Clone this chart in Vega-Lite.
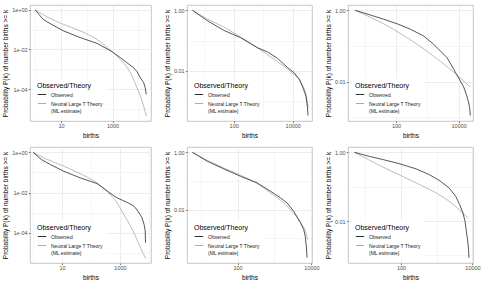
{
"$schema": "https://vega.github.io/schema/vega-lite/v6.json",
"background": "white",
"padding": {"left": 2, "top": 4, "right": 0, "bottom": 0},
"config": {
 "font": "Liberation Sans",
 "view": {"stroke": "#b8b8b8", "strokeWidth": 0.8},
 "axis": {"domain": false, "tickColor": "#333333", "tickSize": 1.6, "tickWidth": 0.7, "labelFontSize": 5.5, "labelColor": "#4d4d4d", "labelPadding": 1.3, "titleFontSize": 6.5, "titleFontWeight": "normal", "titleColor": "#000000", "titlePadding": 3, "labelOverlap": false, "labelFlush": false, "gridColor": "#ebebeb"},
 "legend": {"orient": "bottom-left", "offset": 4, "padding": 3, "fillColor": "white", "titleFontSize": 7, "titleFontWeight": "normal", "titleColor": "#000000", "labelFontSize": 5, "labelColor": "#222222", "symbolType": "stroke", "symbolSize": 70, "symbolStrokeWidth": 1, "rowPadding": 1, "titlePadding": 0.5}
},
"datasets": {"d": [
{"panel":1,"series":"Observed","births":1,"p":1},{"panel":1,"series":"Observed","births":2,"p":0.339},{"panel":1,"series":"Observed","births":3.8,"p":0.204},{"panel":1,"series":"Observed","births":12.6,"p":0.087},{"panel":1,"series":"Observed","births":56,"p":0.040},{"panel":1,"series":"Observed","births":251,"p":0.0204},{"panel":1,"series":"Observed","births":955,"p":0.0078},{"panel":1,"series":"Observed","births":1995,"p":0.0039},{"panel":1,"series":"Observed","births":3630,"p":0.00214},{"panel":1,"series":"Observed","births":6610,"p":0.0012},{"panel":1,"series":"Observed","births":8910,"p":0.00076},{"panel":1,"series":"Observed","births":12020,"p":0.00037},{"panel":1,"series":"Observed","births":16220,"p":0.00021},{"panel":1,"series":"Observed","births":18620,"p":0.000117},{"panel":1,"series":"Observed","births":20420,"p":0.0000537},
{"panel":1,"series":"Theory","births":1,"p":1},{"panel":1,"series":"Theory","births":2.88,"p":0.447},{"panel":1,"series":"Theory","births":12.6,"p":0.186},{"panel":1,"series":"Theory","births":56,"p":0.087},{"panel":1,"series":"Theory","births":251,"p":0.0324},{"panel":1,"series":"Theory","births":955,"p":0.0078},{"panel":1,"series":"Theory","births":1995,"p":0.00316},{"panel":1,"series":"Theory","births":4900,"p":0.000676},{"panel":1,"series":"Theory","births":8910,"p":0.000117},{"panel":1,"series":"Theory","births":14130,"p":0.0000245},{"panel":1,"series":"Theory","births":20420,"p":0.0000043},
{"panel":2,"series":"Observed","births":4,"p":1},{"panel":2,"series":"Observed","births":12.3,"p":0.468},{"panel":2,"series":"Observed","births":45.7,"p":0.219},{"panel":2,"series":"Observed","births":170,"p":0.126},{"panel":2,"series":"Observed","births":631,"p":0.0589},{"panel":2,"series":"Observed","births":1380,"p":0.0427},{"panel":2,"series":"Observed","births":3020,"p":0.0263},{"panel":2,"series":"Observed","births":6760,"p":0.0129},{"panel":2,"series":"Observed","births":11220,"p":0.0087},{"panel":2,"series":"Observed","births":16980,"p":0.00525},{"panel":2,"series":"Observed","births":21880,"p":0.00295},{"panel":2,"series":"Observed","births":28180,"p":0.00148},{"panel":2,"series":"Observed","births":31620,"p":0.00063},{"panel":2,"series":"Observed","births":33110,"p":0.00034},
{"panel":2,"series":"Theory","births":4,"p":1},{"panel":2,"series":"Theory","births":12.6,"p":0.525},{"panel":2,"series":"Theory","births":45.7,"p":0.282},{"panel":2,"series":"Theory","births":170,"p":0.132},{"panel":2,"series":"Theory","births":631,"p":0.0589},{"panel":2,"series":"Theory","births":2340,"p":0.024},{"panel":2,"series":"Theory","births":8710,"p":0.0093},{"panel":2,"series":"Theory","births":19050,"p":0.0041},{"panel":2,"series":"Theory","births":28180,"p":0.0017},{"panel":2,"series":"Theory","births":33880,"p":0.00062},
{"panel":3,"series":"Observed","births":5,"p":1},{"panel":3,"series":"Observed","births":15.1,"p":0.741},{"panel":3,"series":"Observed","births":40.7,"p":0.562},{"panel":3,"series":"Observed","births":107,"p":0.422},{"panel":3,"series":"Observed","births":288,"p":0.295},{"panel":3,"series":"Observed","births":759,"p":0.191},{"panel":3,"series":"Observed","births":1585,"p":0.112},{"panel":3,"series":"Observed","births":4270,"p":0.0468},{"panel":3,"series":"Observed","births":6920,"p":0.0224},{"panel":3,"series":"Observed","births":11220,"p":0.0105},{"panel":3,"series":"Observed","births":14450,"p":0.00708},{"panel":3,"series":"Observed","births":17380,"p":0.00447},{"panel":3,"series":"Observed","births":19950,"p":0.00302},{"panel":3,"series":"Observed","births":22390,"p":0.00186},{"panel":3,"series":"Observed","births":23440,"p":0.00112},
{"panel":3,"series":"Theory","births":5,"p":1},{"panel":3,"series":"Theory","births":14.8,"p":0.646},{"panel":3,"series":"Theory","births":46.8,"p":0.389},{"panel":3,"series":"Theory","births":148,"p":0.216},{"panel":3,"series":"Theory","births":468,"p":0.112},{"panel":3,"series":"Theory","births":1480,"p":0.0543},{"panel":3,"series":"Theory","births":4680,"p":0.0245},{"panel":3,"series":"Theory","births":14800,"p":0.0102},{"panel":3,"series":"Theory","births":23440,"p":0.00708},
{"panel":4,"series":"Observed","births":1,"p":1},{"panel":4,"series":"Observed","births":2,"p":0.427},{"panel":4,"series":"Observed","births":4,"p":0.245},{"panel":4,"series":"Observed","births":11.5,"p":0.115},{"panel":4,"series":"Observed","births":42.7,"p":0.0537},{"panel":4,"series":"Observed","births":162,"p":0.0282},{"panel":4,"series":"Observed","births":407,"p":0.0105},{"panel":4,"series":"Observed","births":794,"p":0.0055},{"panel":4,"series":"Observed","births":1740,"p":0.00331},{"panel":4,"series":"Observed","births":3020,"p":0.00214},{"panel":4,"series":"Observed","births":4170,"p":0.0012},{"panel":4,"series":"Observed","births":5750,"p":0.000562},{"panel":4,"series":"Observed","births":6760,"p":0.000263},{"panel":4,"series":"Observed","births":7410,"p":0.000123},{"panel":4,"series":"Observed","births":7590,"p":0.0000324},
{"panel":4,"series":"Theory","births":1,"p":1},{"panel":4,"series":"Theory","births":2.88,"p":0.468},{"panel":4,"series":"Theory","births":11.5,"p":0.204},{"panel":4,"series":"Theory","births":42.7,"p":0.087},{"panel":4,"series":"Theory","births":162,"p":0.0302},{"panel":4,"series":"Theory","births":407,"p":0.00977},{"panel":4,"series":"Theory","births":794,"p":0.00309},{"panel":4,"series":"Theory","births":1259,"p":0.001},{"panel":4,"series":"Theory","births":2140,"p":0.000263},{"panel":4,"series":"Theory","births":3630,"p":0.0000575},{"panel":4,"series":"Theory","births":5370,"p":0.0000158},{"panel":4,"series":"Theory","births":7590,"p":0.0000056},
{"panel":5,"series":"Observed","births":6,"p":1},{"panel":5,"series":"Observed","births":15.1,"p":0.49},{"panel":5,"series":"Observed","births":42.7,"p":0.263},{"panel":5,"series":"Observed","births":120,"p":0.145},{"panel":5,"series":"Observed","births":339,"p":0.0851},{"panel":5,"series":"Observed","births":776,"p":0.0437},{"panel":5,"series":"Observed","births":1445,"p":0.0257},{"panel":5,"series":"Observed","births":2190,"p":0.017},{"panel":5,"series":"Observed","births":3310,"p":0.0087},{"panel":5,"series":"Observed","births":5010,"p":0.00347},{"panel":5,"series":"Observed","births":6170,"p":0.002},{"panel":5,"series":"Observed","births":6760,"p":0.00117},{"panel":5,"series":"Observed","births":7240,"p":0.000525},{"panel":5,"series":"Observed","births":7590,"p":0.000209},
{"panel":5,"series":"Theory","births":6,"p":1},{"panel":5,"series":"Theory","births":15.1,"p":0.525},{"panel":5,"series":"Theory","births":42.7,"p":0.282},{"panel":5,"series":"Theory","births":120,"p":0.158},{"panel":5,"series":"Theory","births":339,"p":0.0813},{"panel":5,"series":"Theory","births":776,"p":0.038},{"panel":5,"series":"Theory","births":1778,"p":0.017},{"panel":5,"series":"Theory","births":3310,"p":0.00724},{"panel":5,"series":"Theory","births":5010,"p":0.00363},{"panel":5,"series":"Theory","births":6760,"p":0.00178},{"panel":5,"series":"Theory","births":7940,"p":0.00089},
{"panel":6,"series":"Observed","births":5,"p":1},{"panel":6,"series":"Observed","births":13.2,"p":0.759},{"panel":6,"series":"Observed","births":30.9,"p":0.617},{"panel":6,"series":"Observed","births":89.1,"p":0.468},{"panel":6,"series":"Observed","births":263,"p":0.331},{"panel":6,"series":"Observed","births":617,"p":0.224},{"panel":6,"series":"Observed","births":1148,"p":0.155},{"panel":6,"series":"Observed","births":2190,"p":0.0933},{"panel":6,"series":"Observed","births":3390,"p":0.0525},{"panel":6,"series":"Observed","births":4370,"p":0.0302},{"panel":6,"series":"Observed","births":5370,"p":0.0174},{"panel":6,"series":"Observed","births":6170,"p":0.01},{"panel":6,"series":"Observed","births":6610,"p":0.00575},{"panel":6,"series":"Observed","births":7240,"p":0.00295},{"panel":6,"series":"Observed","births":7760,"p":0.00151},{"panel":6,"series":"Observed","births":7940,"p":0.00085},
{"panel":6,"series":"Theory","births":5,"p":1},{"panel":6,"series":"Theory","births":30.9,"p":0.375},{"panel":6,"series":"Theory","births":263,"p":0.129},{"panel":6,"series":"Theory","births":2190,"p":0.038},{"panel":6,"series":"Theory","births":7940,"p":0.0117}
]},
"columns": 3,
"spacing": {"row": 26, "column": 36},
"bounds": "flush",
"resolve": {"scale": {"color": "independent", "x": "independent", "y": "independent"}, "legend": {"color": "independent"}},
"concat": [
{"width": 121, "height": 116, "data": {"name": "d"}, "transform": [{"filter": "datum.panel == 1"}],
 "encoding": {
  "x": {"field": "births", "type": "quantitative", "title": "births", "scale": {"type": "log", "domain": [0.625, 31260], "nice": false},
   "axis": {"values": [1, 10, 100, 1000, 10000], "labelExpr": "datum.value == 10 || datum.value == 1000 ? format(datum.value, 'd') : ''", "gridWidth": {"condition": {"test": "datum.value == 10 || datum.value == 1000", "value": 0.9}, "value": 0.45}, "tickOpacity": {"condition": {"test": "datum.value == 10 || datum.value == 1000", "value": 1}, "value": 0}}},
  "y": {"field": "p", "type": "quantitative", "title": "Probability P(k) of number births >= k", "scale": {"type": "log", "domain": [2.4e-6, 1.79], "nice": false},
   "axis": {"values": [0.00001, 0.0001, 0.001, 0.01, 0.1, 1], "labelExpr": "datum.value == 1 ? '1e+00' : datum.value == 0.01 ? '1e-02' : datum.value == 0.0001 ? '1e-04' : ''", "gridWidth": {"condition": {"test": "datum.value == 1 || datum.value == 0.01 || datum.value == 0.0001", "value": 0.9}, "value": 0.45}, "tickOpacity": {"condition": {"test": "datum.value == 1 || datum.value == 0.01 || datum.value == 0.0001", "value": 1}, "value": 0}}},
  "color": {"field": "series", "type": "nominal", "scale": {"domain": ["Observed", "Theory"], "range": ["#2b2b2b", "#ababab"]}, "legend": {"title": "Observed/Theory", "labelExpr": "datum.value == 'Theory' ? ['Neutral Large T Theory', ' (ML estimate)'] : datum.value"}}
 },
 "layer": [
  {"transform": [{"filter": "datum.series == 'Theory'"}], "mark": {"type": "line", "interpolate": "monotone", "strokeWidth": 0.8}},
  {"transform": [{"filter": "datum.series == 'Observed'"}], "mark": {"type": "line", "strokeWidth": 0.8}}
 ]},
{"width": 125, "height": 116, "data": {"name": "d"}, "transform": [{"filter": "datum.panel == 2"}],
 "encoding": {
  "x": {"field": "births", "type": "quantitative", "title": "births", "scale": {"type": "log", "domain": [2.61, 45080], "nice": false},
   "axis": {"values": [10, 100, 1000, 10000], "labelExpr": "datum.value == 100 || datum.value == 10000 ? format(datum.value, 'd') : ''", "gridWidth": {"condition": {"test": "datum.value == 100 || datum.value == 10000", "value": 0.9}, "value": 0.45}, "tickOpacity": {"condition": {"test": "datum.value == 100 || datum.value == 10000", "value": 1}, "value": 0}}},
  "y": {"field": "p", "type": "quantitative", "title": "Probability P(k) of number births >= k", "scale": {"type": "log", "domain": [2.24e-4, 1.5], "nice": false},
   "axis": {"values": [0.001, 0.01, 0.1, 1], "labelExpr": "datum.value == 1 ? '1.00' : datum.value == 0.01 ? '0.01' : ''", "gridWidth": {"condition": {"test": "datum.value == 1 || datum.value == 0.01", "value": 0.9}, "value": 0.45}, "tickOpacity": {"condition": {"test": "datum.value == 1 || datum.value == 0.01", "value": 1}, "value": 0}}},
  "color": {"field": "series", "type": "nominal", "scale": {"domain": ["Observed", "Theory"], "range": ["#2b2b2b", "#ababab"]}, "legend": {"title": "Observed/Theory", "labelExpr": "datum.value == 'Theory' ? ['Neutral Large T Theory', ' (ML estimate)'] : datum.value"}}
 },
 "layer": [
  {"transform": [{"filter": "datum.series == 'Theory'"}], "mark": {"type": "line", "interpolate": "monotone", "strokeWidth": 0.8}},
  {"transform": [{"filter": "datum.series == 'Observed'"}], "mark": {"type": "line", "strokeWidth": 0.8}}
 ]},
{"width": 125, "height": 116, "data": {"name": "d"}, "transform": [{"filter": "datum.panel == 3"}],
 "encoding": {
  "x": {"field": "births", "type": "quantitative", "title": "births", "scale": {"type": "log", "domain": [2.94, 28580], "nice": false},
   "axis": {"values": [10, 100, 1000, 10000], "labelExpr": "datum.value == 100 || datum.value == 10000 ? format(datum.value, 'd') : ''", "gridWidth": {"condition": {"test": "datum.value == 100 || datum.value == 10000", "value": 0.9}, "value": 0.45}, "tickOpacity": {"condition": {"test": "datum.value == 100 || datum.value == 10000", "value": 1}, "value": 0}}},
  "y": {"field": "p", "type": "quantitative", "title": "Probability P(k) of number births >= k", "scale": {"type": "log", "domain": [7.9e-4, 1.41], "nice": false},
   "axis": {"values": [0.001, 0.01, 0.1, 1], "labelExpr": "datum.value == 1 ? '1.00' : datum.value == 0.01 ? '0.01' : ''", "gridWidth": {"condition": {"test": "datum.value == 1 || datum.value == 0.01", "value": 0.9}, "value": 0.45}, "tickOpacity": {"condition": {"test": "datum.value == 1 || datum.value == 0.01", "value": 1}, "value": 0}}},
  "color": {"field": "series", "type": "nominal", "scale": {"domain": ["Observed", "Theory"], "range": ["#2b2b2b", "#ababab"]}, "legend": {"title": "Observed/Theory", "labelExpr": "datum.value == 'Theory' ? ['Neutral Large T Theory', ' (ML estimate)'] : datum.value"}}
 },
 "layer": [
  {"transform": [{"filter": "datum.series == 'Theory'"}], "mark": {"type": "line", "interpolate": "monotone", "strokeWidth": 0.8}},
  {"transform": [{"filter": "datum.series == 'Observed'"}], "mark": {"type": "line", "strokeWidth": 0.8}}
 ]},
{"width": 121, "height": 116, "data": {"name": "d"}, "transform": [{"filter": "datum.panel == 4"}],
 "encoding": {
  "x": {"field": "births", "type": "quantitative", "title": "births", "scale": {"type": "log", "domain": [0.789, 11720], "nice": false},
   "axis": {"values": [1, 10, 100, 1000, 10000], "labelExpr": "datum.value == 10 || datum.value == 1000 ? format(datum.value, 'd') : ''", "gridWidth": {"condition": {"test": "datum.value == 10 || datum.value == 1000", "value": 0.9}, "value": 0.45}, "tickOpacity": {"condition": {"test": "datum.value == 10 || datum.value == 1000", "value": 1}, "value": 0}}},
  "y": {"field": "p", "type": "quantitative", "title": "Probability P(k) of number births >= k", "scale": {"type": "log", "domain": [3.24e-6, 1.83], "nice": false},
   "axis": {"values": [0.00001, 0.0001, 0.001, 0.01, 0.1, 1], "labelExpr": "datum.value == 1 ? '1e+00' : datum.value == 0.01 ? '1e-02' : datum.value == 0.0001 ? '1e-04' : ''", "gridWidth": {"condition": {"test": "datum.value == 1 || datum.value == 0.01 || datum.value == 0.0001", "value": 0.9}, "value": 0.45}, "tickOpacity": {"condition": {"test": "datum.value == 1 || datum.value == 0.01 || datum.value == 0.0001", "value": 1}, "value": 0}}},
  "color": {"field": "series", "type": "nominal", "scale": {"domain": ["Observed", "Theory"], "range": ["#2b2b2b", "#ababab"]}, "legend": {"title": "Observed/Theory", "labelExpr": "datum.value == 'Theory' ? ['Neutral Large T Theory', ' (ML estimate)'] : datum.value"}}
 },
 "layer": [
  {"transform": [{"filter": "datum.series == 'Theory'"}], "mark": {"type": "line", "interpolate": "monotone", "strokeWidth": 0.8}},
  {"transform": [{"filter": "datum.series == 'Observed'"}], "mark": {"type": "line", "strokeWidth": 0.8}}
 ]},
{"width": 125, "height": 116, "data": {"name": "d"}, "transform": [{"filter": "datum.panel == 5"}],
 "encoding": {
  "x": {"field": "births", "type": "quantitative", "title": "births", "scale": {"type": "log", "domain": [4.31, 10330], "nice": false},
   "axis": {"values": [10, 100, 1000, 10000], "labelExpr": "datum.value == 100 || datum.value == 10000 ? format(datum.value, 'd') : ''", "gridWidth": {"condition": {"test": "datum.value == 100 || datum.value == 10000", "value": 0.9}, "value": 0.45}, "tickOpacity": {"condition": {"test": "datum.value == 100 || datum.value == 10000", "value": 1}, "value": 0}}},
  "y": {"field": "p", "type": "quantitative", "title": "Probability P(k) of number births >= k", "scale": {"type": "log", "domain": [1.35e-4, 1.53], "nice": false},
   "axis": {"values": [0.001, 0.01, 0.1, 1], "labelExpr": "datum.value == 1 ? '1.00' : datum.value == 0.01 ? '0.01' : ''", "gridWidth": {"condition": {"test": "datum.value == 1 || datum.value == 0.01", "value": 0.9}, "value": 0.45}, "tickOpacity": {"condition": {"test": "datum.value == 1 || datum.value == 0.01", "value": 1}, "value": 0}}},
  "color": {"field": "series", "type": "nominal", "scale": {"domain": ["Observed", "Theory"], "range": ["#2b2b2b", "#ababab"]}, "legend": {"title": "Observed/Theory", "labelExpr": "datum.value == 'Theory' ? ['Neutral Large T Theory', ' (ML estimate)'] : datum.value"}}
 },
 "layer": [
  {"transform": [{"filter": "datum.series == 'Theory'"}], "mark": {"type": "line", "interpolate": "monotone", "strokeWidth": 0.8}},
  {"transform": [{"filter": "datum.series == 'Observed'"}], "mark": {"type": "line", "strokeWidth": 0.8}}
 ]},
{"width": 125, "height": 116, "data": {"name": "d"}, "transform": [{"filter": "datum.panel == 6"}],
 "encoding": {
  "x": {"field": "births", "type": "quantitative", "title": "births", "scale": {"type": "log", "domain": [3.29, 10330], "nice": false},
   "axis": {"values": [10, 100, 1000, 10000], "labelExpr": "datum.value == 100 || datum.value == 10000 ? format(datum.value, 'd') : ''", "gridWidth": {"condition": {"test": "datum.value == 100 || datum.value == 10000", "value": 0.9}, "value": 0.45}, "tickOpacity": {"condition": {"test": "datum.value == 100 || datum.value == 10000", "value": 1}, "value": 0}}},
  "y": {"field": "p", "type": "quantitative", "title": "Probability P(k) of number births >= k", "scale": {"type": "log", "domain": [6.0e-4, 1.43], "nice": false},
   "axis": {"values": [0.001, 0.01, 0.1, 1], "labelExpr": "datum.value == 1 ? '1.00' : datum.value == 0.01 ? '0.01' : ''", "gridWidth": {"condition": {"test": "datum.value == 1 || datum.value == 0.01", "value": 0.9}, "value": 0.45}, "tickOpacity": {"condition": {"test": "datum.value == 1 || datum.value == 0.01", "value": 1}, "value": 0}}},
  "color": {"field": "series", "type": "nominal", "scale": {"domain": ["Observed", "Theory"], "range": ["#2b2b2b", "#ababab"]}, "legend": {"title": "Observed/Theory", "labelExpr": "datum.value == 'Theory' ? ['Neutral Large T Theory', ' (ML estimate)'] : datum.value"}}
 },
 "layer": [
  {"transform": [{"filter": "datum.series == 'Theory'"}], "mark": {"type": "line", "interpolate": "monotone", "strokeWidth": 0.8}},
  {"transform": [{"filter": "datum.series == 'Observed'"}], "mark": {"type": "line", "strokeWidth": 0.8}}
 ]}
]
}
